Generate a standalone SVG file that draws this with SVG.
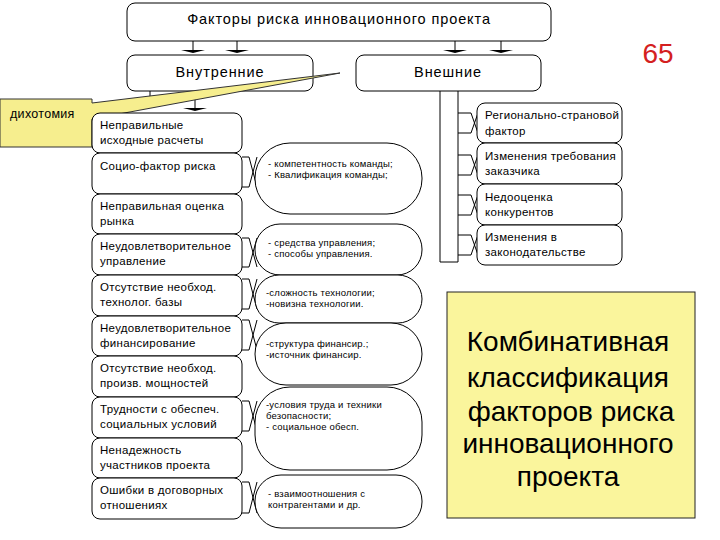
<svg xmlns="http://www.w3.org/2000/svg" width="720" height="540" viewBox="0 0 720 540">
<style>
.box{fill:#fff;stroke:#000;stroke-width:1}
.ell{fill:#fff;stroke:#000;stroke-width:1}
.t{font-family:"Liberation Sans",Arial,sans-serif;fill:#000}
.t14{font-size:14.5px;letter-spacing:0.9px}
.t12{font-size:11.5px;letter-spacing:0.3px}
.t10{font-size:9.5px;letter-spacing:0.2px}
.ln{fill:none;stroke:#000;stroke-width:1}
.hd{fill:#000}
</style>
<rect width="720" height="540" fill="#fff"/>
<g id="connectors">
<path class="ln" d="M193,41V50M237,41V50M455,41V50M501,41V50M150,91V102M195,91V108"/>
<polygon class="hd" points="181,50 205,50 193,53"/>
<polygon class="hd" points="225,50 249,50 237,53"/>
<polygon class="hd" points="443,50 467,50 455,53"/>
<polygon class="hd" points="489,50 513,50 501,53"/>
<polygon class="hd" points="138,102 162,102 150,105"/>
<polygon class="hd" points="183,108 207,108 195,111"/>
<path class="ln" d="M440,91V262H458V91"/>
<path class="ln" d="M458,113H471L478,133M458,133H471L478,113M458,155H471L478,175M458,175H471L478,155M458,195H471L478,215M458,215H471L478,195M458,235H471L478,255M458,255H471L478,235"/>
<path class="ln" d="M242,157H249L257,187M242,187H249L257,157M242,238H249L257,267M242,267H249L257,238M242,279H249L257,309M242,309H249L257,279M242,320H249L257,350M242,350H249L257,320M242,401H249L257,431M242,431H249L257,401M242,482H249L257,513M242,513H249L257,482"/>
</g>
<g id="n-root"><rect class="box" x="127" y="3" width="424" height="38" rx="8"/><text class="t t14" x="339" y="24" text-anchor="middle">Факторы риска инновационного проекта</text></g>
<g id="n-internal"><rect class="box" x="127" y="55" width="186" height="36" rx="8"/><text class="t t14" x="220" y="77" text-anchor="middle">Внутренние</text></g>
<g id="n-external"><rect class="box" x="356" y="55" width="185" height="36" rx="8"/><text class="t t14" x="448" y="77" text-anchor="middle">Внешние</text></g>
<g id="callout">
<polygon points="0,99 92,99 92,103 340,73 92,119 92,147 0,147" fill="#F6EE8E" stroke="#333" stroke-width="1"/>
<text class="t" x="10" y="118" font-size="12.5" letter-spacing="0.3">дихотомия</text>
</g>
<g id="n-65"><text class="t" x="658" y="63" font-size="28" text-anchor="middle" style="fill:#D42020">65</text></g>
<g id="n-l1"><rect class="box" x="92" y="113" width="150" height="40" rx="8"/><text class="t t12" x="100" y="129">Неправильные</text><text class="t t12" x="100" y="144">исходные расчеты</text></g>
<g id="n-l2"><rect class="box" x="92" y="153" width="150" height="41" rx="8"/><text class="t t12" x="100" y="170">Социо-фактор риска</text></g>
<g id="n-l3"><rect class="box" x="92" y="194" width="150" height="40" rx="8"/><text class="t t12" x="100" y="210">Неправильная оценка</text><text class="t t12" x="100" y="225">рынка</text></g>
<g id="n-l4"><rect class="box" x="92" y="234" width="150" height="41" rx="8"/><text class="t t12" x="100" y="250">Неудовлетворительное</text><text class="t t12" x="100" y="265">управление</text></g>
<g id="n-l5"><rect class="box" x="92" y="275" width="150" height="41" rx="8"/><text class="t t12" x="100" y="291">Отсутствие необход.</text><text class="t t12" x="100" y="306">технолог. базы</text></g>
<g id="n-l6"><rect class="box" x="92" y="316" width="150" height="40" rx="8"/><text class="t t12" x="100" y="332">Неудовлетворительное</text><text class="t t12" x="100" y="347">финансирование</text></g>
<g id="n-l7"><rect class="box" x="92" y="356" width="150" height="41" rx="8"/><text class="t t12" x="100" y="372">Отсутствие необход.</text><text class="t t12" x="100" y="387">произв. мощностей</text></g>
<g id="n-l8"><rect class="box" x="92" y="397" width="150" height="41" rx="8"/><text class="t t12" x="100" y="413">Трудности  с обеспеч.</text><text class="t t12" x="100" y="428">социальных  условий</text></g>
<g id="n-l9"><rect class="box" x="92" y="438" width="150" height="40" rx="8"/><text class="t t12" x="100" y="454">Ненадежность</text><text class="t t12" x="100" y="469">участников проекта</text></g>
<g id="n-l10"><rect class="box" x="92" y="478" width="150" height="41" rx="8"/><text class="t t12" x="100" y="494">Ошибки в договорных</text><text class="t t12" x="100" y="509">отношениях</text></g>
<g id="n-e1"><rect class="ell" x="255" y="143" width="167" height="71" rx="35"/><text class="t t10" x="268" y="167">- компетентность команды;</text><text class="t t10" x="268" y="178">- Квалификация  команды;</text></g>
<g id="n-e2"><rect class="ell" x="255" y="224" width="167" height="51" rx="25"/><text class="t t10" x="268" y="246">- средства управления;</text><text class="t t10" x="268" y="257">- способы управления.</text></g>
<g id="n-e3"><rect class="ell" x="255" y="275" width="167" height="48" rx="24"/><text class="t t10" x="266" y="296">-сложность технологии;</text><text class="t t10" x="266" y="307">-новизна технологии.</text></g>
<g id="n-e4"><rect class="ell" x="255" y="323" width="167" height="62" rx="31"/><text class="t t10" x="266" y="347">-структура финансир.;</text><text class="t t10" x="266" y="358">-источник  финансир.</text></g>
<g id="n-e5"><rect class="ell" x="255" y="387" width="167" height="83" rx="35"/><text class="t t10" x="266" y="408">-условия труда и техники</text><text class="t t10" x="266" y="419">безопасности;</text><text class="t t10" x="266" y="430">- социальное  обесп.</text></g>
<g id="n-e6"><rect class="ell" x="255" y="475" width="167" height="53" rx="26"/><text class="t t10" x="268" y="497">- взаимоотношения с</text><text class="t t10" x="268" y="508">контрагентами и др.</text></g>
<g id="n-r1"><rect class="box" x="477" y="103" width="145" height="40" rx="8"/><text class="t t12" x="485" y="119">Регионально-страновой</text><text class="t t12" x="485" y="135">фактор</text></g>
<g id="n-r2"><rect class="box" x="477" y="143" width="145" height="41" rx="8"/><text class="t t12" x="485" y="160">Изменения требования</text><text class="t t12" x="485" y="175">заказчика</text></g>
<g id="n-r3"><rect class="box" x="477" y="184" width="145" height="41" rx="8"/><text class="t t12" x="485" y="201">Недооценка</text><text class="t t12" x="485" y="216">конкурентов</text></g>
<g id="n-r4"><rect class="box" x="477" y="225" width="145" height="40" rx="8"/><text class="t t12" x="485" y="241">Изменения в</text><text class="t t12" x="485" y="256">законодательстве</text></g>
<g id="n-summary"><rect x="447" y="292" width="248" height="226" fill="#FAF59C" stroke="#222" stroke-width="1"/>
<text class="t" font-size="28" text-anchor="middle"><tspan x="568" y="351">Комбинативная</tspan><tspan x="568" y="387">классификация</tspan><tspan x="571" y="421">факторов риска</tspan><tspan x="568" y="453">инновационного</tspan><tspan x="568" y="486">проекта</tspan></text></g>
</svg>
